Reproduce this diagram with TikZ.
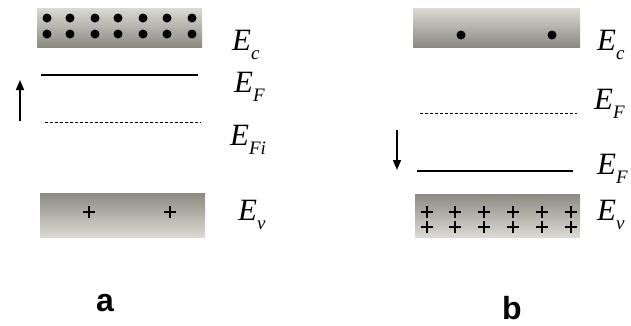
\documentclass[tikz,border=0pt]{standalone}
\usepackage{fontspec}
\setmainfont{Liberation Serif}
\newfontfamily\labelsans{Liberation Sans}
\usetikzlibrary{arrows.meta}

\definecolor{banddark}{RGB}{140,139,130}
\definecolor{bandlight}{RGB}{218,218,211}

% Energy-level label: italic E with an italic subscript
\newcommand{\enlevel}[1]{{\fontsize{31}{31}\selectfont\itshape E\raisebox{-9pt}{\fontsize{19}{19}\selectfont #1}}}

\tikzset{
  cband/.style={top color=bandlight, bottom color=banddark, draw=none},
  vband/.style={top color=banddark, bottom color=bandlight, draw=none},
  carrier/.style={fill=black, draw=none},
  hole/.style={line width=2.7pt, black},
  fermi/.style={line width=1.2pt, black},
  intrinsic/.style={line width=0.8pt, black, dash pattern=on 3pt off 2pt},
  levelarrow/.style={line width=1.5pt, -{Triangle[width=8pt,length=10pt]}},
  lvl/.style={anchor=base west, inner sep=0pt},
  panel/.style={font=\labelsans\bfseries\fontsize{32}{32}\selectfont, inner sep=0pt, anchor=base}
}

\begin{document}
\begin{tikzpicture}[x=1pt,y=-1pt]
\useasboundingbox (0,0) rectangle (631,325);
\clip (0,0) rectangle (631,325);

% ---------- panel a: n-type ----------
\shade[cband] (37,8) rectangle (202,47);
\foreach \x in {47,70,95,118,143,167,192}
  \foreach \y in {18,34}
    \fill[carrier] (\x,\y) circle (4.5);
\draw[fermi] (41,75) -- (198,75);
\draw[intrinsic] (45,122) -- (201,122);
\coordinate (aup0) at (20,121);
\coordinate (aup1) at (20,80);
\draw[levelarrow] (aup0) -- (aup1);
\shade[vband] (40,193) rectangle (205,237);
\foreach \x in {89,170}
  \draw[hole] (\x-6,212) -- (\x+6,212) (\x,206) -- (\x,218);

\node[lvl] (aEc)  at (232,50)  {\enlevel{c}};
\node[lvl] (aEF)  at (234,92)  {\enlevel{F}};
\node[lvl] (aEFi) at (230,145) {\enlevel{Fi}};
\node[lvl] (aEv)  at (238,220) {\enlevel{v}};
\node[panel] (alab) at (105,311) {a};

% ---------- panel b: p-type ----------
\shade[cband] (413,8) rectangle (580,47);
\foreach \x in {461,552}
  \fill[carrier] (\x,35) circle (4.5);
\draw[intrinsic] (420,113) -- (577,113);
\draw[fermi] (417,171) -- (573,171);
\coordinate (bdn0) at (397,130);
\coordinate (bdn1) at (397,170);
\draw[levelarrow] (bdn0) -- (bdn1);
\shade[vband] (415,194) rectangle (580,237);
\foreach \x in {427,455,484,513,542,571}
  \foreach \y in {212,227}
    \draw[hole] (\x-6,\y) -- (\x+6,\y) (\x,\y-6) -- (\x,\y+6);

\node[lvl] (bEc)  at (597,50)  {\enlevel{c}};
\node[lvl] (bEF)  at (594,109) {\enlevel{F}};
\node[lvl] (bEF2) at (597,174) {\enlevel{F}};
\node[lvl] (bEv)  at (597,220) {\enlevel{v}};
\node[panel] (blab) at (512,319) {b};
\end{tikzpicture}
\end{document}
